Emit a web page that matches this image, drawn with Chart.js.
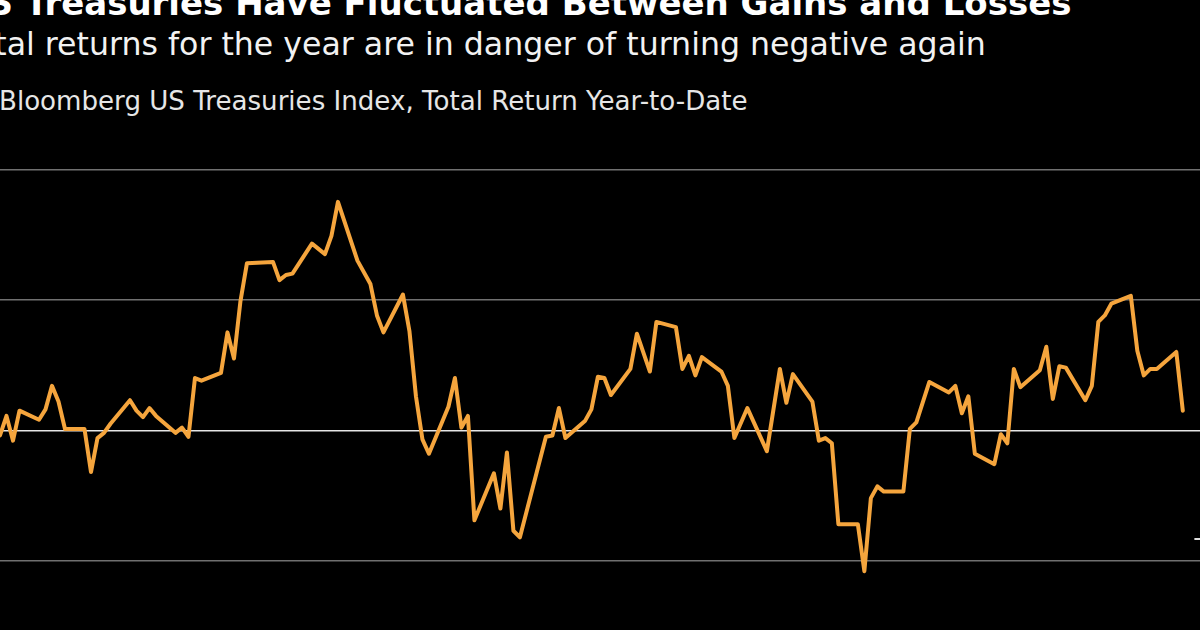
<!DOCTYPE html>
<html>
<head>
<meta charset="utf-8">
<script src="https://cdn.jsdelivr.net/npm/chart.js@4.4.1/dist/chart.umd.min.js"></script>
<style>
  html, body { margin: 0; padding: 0; background: #000; width: 1200px; height: 630px; overflow: hidden; }
  body { position: relative; font-family: "DejaVu Sans", sans-serif; }
  .txt { position: absolute; white-space: nowrap; line-height: 1; }
  #title { left: -39px; top: -14px; font-size: 34px; font-weight: bold; color: #fff; }
  #subtitle { left: -39px; top: 29px; font-size: 31.6px; color: #f2f2f2; }
  #units { left: -1px; top: 88px; font-size: 26.1px; color: #e6e6e6; }
  #wrap { position: absolute; left: 0; top: 104px; width: 1240px; height: 522px; }
</style>
</head>
<body>
<div class="txt" id="title">US Treasuries Have Fluctuated Between Gains and Losses</div>
<div class="txt" id="subtitle">Total returns for the year are in danger of turning negative again</div>
<div class="txt" id="units">Bloomberg US Treasuries Index, Total Return Year-to-Date</div>
<div id="wrap"><canvas id="myChart1"></canvas></div>
<script>
// trading-day index since the start of the year
const days = [0, 1, 2, 3, 6, 7, 8, 9, 10, 13, 14, 15, 16, 17, 20, 21, 22, 23, 24, 27,
  28, 29, 30, 31, 34, 35, 36, 37, 38, 42, 43, 44, 45, 48, 50, 51, 52, 55, 57, 58,
  59, 62, 63, 64, 65, 66, 69, 70, 71, 72, 73, 76, 77, 78, 79, 80, 84, 85, 86, 87,
  90, 91, 92, 93, 94, 97, 98, 100, 101, 104, 105, 106, 107, 108, 111, 112, 113, 115, 118, 120,
  121, 122, 125, 126, 127, 128, 129, 132, 133, 134, 135, 136, 139, 140, 141, 143, 146, 147, 148, 149,
  150, 153, 154, 155, 156, 157, 160, 161, 162, 163, 164, 167, 168, 169, 170, 171, 174, 175, 176, 177,
  178, 181, 182];
// total return year-to-date, %
const returns = [-0.04, 0.11, -0.08, 0.15, 0.08, 0.16, 0.34, 0.22, 0.01, 0.01, -0.32, -0.06, -0.02, 0.05, 0.23, 0.15, 0.10, 0.17, 0.11, -0.02,
  0.02, -0.05, 0.40, 0.38, 0.44, 0.75, 0.55, 0.99, 1.28, 1.29, 1.15, 1.19, 1.20, 1.43, 1.35, 1.49, 1.75, 1.30, 1.12, 0.88,
  0.75, 1.04, 0.76, 0.26, -0.07, -0.18, 0.18, 0.40, 0.02, 0.11, -0.69, -0.33, -0.60, -0.17, -0.77, -0.82, -0.05, -0.04, 0.17, -0.06,
  0.07, 0.16, 0.41, 0.40, 0.27, 0.47, 0.74, 0.45, 0.83, 0.79, 0.47, 0.57, 0.42, 0.56, 0.45, 0.34, -0.06, 0.17, -0.16, 0.47,
  0.21, 0.43, 0.22, -0.08, -0.06, -0.10, -0.72, -0.72, -1.08, -0.52, -0.43, -0.47, -0.47, 0.01, 0.06, 0.37, 0.29, 0.34, 0.13, 0.26,
  -0.18, -0.26, -0.03, -0.10, 0.47, 0.33, 0.46, 0.64, 0.24, 0.49, 0.48, 0.23, 0.34, 0.83, 0.88, 0.97, 1.03, 0.61, 0.42, 0.47,
  0.47, 0.60, 0.15];
const yTicks = [-1, 0, 1, 2];

let ctx = document.getElementById('myChart1').getContext('2d');
let myChart1 = new Chart(ctx, {
  type: 'line',
  data: {
    datasets: [{
      label: "Bloomberg US Treasuries Index",
      data: days.map((d, i) => ({ x: d, y: returns[i] })),
      borderColor: "#f5a53d",
      borderWidth: 4,
      borderJoinStyle: 'round',
      borderCapStyle: 'round',
      pointRadius: 0,
      tension: 0,
      fill: false,
    }]
  },
  options: {
    responsive: true,
    maintainAspectRatio: false,
    animation: false,
    layout: { padding: 0 },
    plugins: { legend: { display: false }, tooltip: { enabled: false } },
    scales: {
      x: { type: 'linear', min: 0, max: 190.8, display: false },
      y: {
        position: 'right',
        min: -1.5,
        max: 2.5,
        afterFit: (scale) => {
          scale.width = 0;
          scale.paddingTop = 0;
          scale.paddingBottom = 0;
        },
        afterBuildTicks: (scale) => { scale.ticks = yTicks.map(v => ({ value: v })); },
        border: { display: false },
        grid: {
          drawTicks: false,
          lineWidth: 1.5,
          color: (c) => c.tick && c.tick.value === 0 ? '#e6e6e6' : '#707070',
        },
        ticks: {
          mirror: true,
          padding: 0,
          labelOffset: -21,
          color: '#e0e0e0',
          font: { family: '"DejaVu Sans"', size: 24 },
          callback: (v) => v + '%',
        }
      }
    }
  }
});
</script>
</body>
</html>
